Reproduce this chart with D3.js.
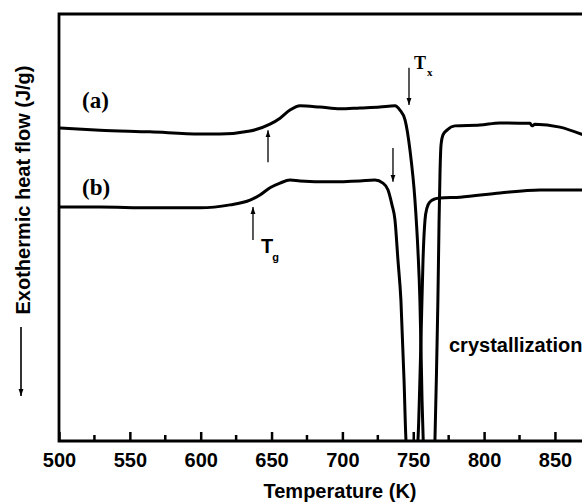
<!DOCTYPE html>
<html><head><meta charset="utf-8">
<script src="https://cdn.jsdelivr.net/npm/d3@7"></script>
<style>body{margin:0;background:#fff}svg{display:block}</style>
</head><body>
<svg id="c" width="582" height="504"></svg>
<script>
// Data (Temperature K, heat flow arbitrary units)
const curveA = [[500.7,7.33],[528.9,7.28],[564.2,7.24],[599.5,7.19],[613.6,7.19],[634.8,7.26],[648.9,7.42],[656,7.56],[663,7.75],[670.1,7.85],[684.2,7.82],[698.3,7.78],[712.4,7.80],[726.5,7.82],[737.1,7.85],[740.6,7.75],[744.2,7.52],[747.7,6.81],[751.2,5.64],[753.3,4.47],[754.7,3.30],[755.5,2.13],[756.2,0.96],[757.5,-0.5],[760.5,-1.8],[763.5,-0.8],[765.3,0],[766.7,2.1],[767.4,3.3],[768.2,5.1],[768.9,6.3],[769.6,6.93],[771.0,7.17],[773.8,7.28],[779.4,7.38],[797.1,7.40],[811.2,7.45],[832.4,7.44],[833.8,7.38],[835.9,7.42],[853.5,7.35],[869.8,7.17]];
const curveB = [[500.7,5.48],[528.9,5.48],[564.2,5.46],[599.5,5.46],[620.7,5.53],[634.8,5.64],[641.8,5.76],[648.9,5.93],[656,6.04],[663,6.11],[670.1,6.09],[691.2,6.07],[712.4,6.09],[723,6.11],[728.6,6.04],[732.2,5.88],[735,5.53],[737.1,5.18],[739.2,4.24],[741.3,3.30],[743.5,1.43],[744.9,0],[749.1,-1.15],[753.3,0],[754.7,1.43],[755.8,2.83],[756.9,4.24],[758.3,5.18],[759.7,5.46],[761.8,5.60],[765.3,5.67],[768.9,5.69],[783,5.71],[811.2,5.81],[839.4,5.88],[869.8,5.88]];
const majorTicks = [500,550,600,650,700,750,800,850];
const minorTicks = [525,575,625,675,725,775,825];
// Annotation arrows: [temperature, tail value, tip value]
const arrows = [[647.5,6.53,7.28],[636.9,4.71,5.48],[747.0,8.74,7.87],[735.7,6.86,6.07]];
const curveLabels = ["(a)","(b)"];

const svg = d3.select("#c");
const L=59, R=583, T=14, B=441;
const x = d3.scaleLinear().domain([500,869.8]).range([L,R]);
const y = d3.scaleLinear().domain([0,10]).range([B,T]);

svg.append("defs").append("clipPath").attr("id","clip")
  .append("rect").attr("x",L).attr("y",T).attr("width",R-L).attr("height",B-T);
const mk = svg.select("defs").append("marker").attr("id","ah")
  .attr("viewBox","0 0 10 10").attr("refX",10).attr("refY",5)
  .attr("markerWidth",7).attr("markerHeight",7).attr("markerUnits","userSpaceOnUse")
  .attr("orient","auto");
mk.append("path").attr("d","M0,1.5 L10,5 L0,8.5 Z").attr("fill","#000");

const line = d3.line().x(d=>x(d[0])).y(d=>y(d[1])).curve(d3.curveMonotoneX);
const g = svg.append("g").attr("clip-path","url(#clip)");
[curveA, curveB].forEach(c=>{
  g.append("path").datum(c).attr("d",line).attr("fill","none")
   .attr("stroke","#000").attr("stroke-width",3).attr("stroke-linejoin","round");
});

// axis
const ax = svg.append("g").attr("transform",`translate(0,${B})`)
  .call(d3.axisBottom(x).tickValues(majorTicks).tickSizeInner(-9).tickSizeOuter(0).tickPadding(12).tickFormat(d3.format("d")));
ax.select(".domain").remove();
ax.selectAll(".tick line").attr("stroke","#000").attr("stroke-width",2.5);
ax.selectAll(".tick text").attr("font-family","Liberation Sans, Arial, sans-serif")
  .attr("font-weight","bold").attr("font-size",20).attr("fill","#000");
svg.append("g").selectAll("line").data(minorTicks).join("line")
  .attr("x1",d=>x(d)).attr("x2",d=>x(d)).attr("y1",B).attr("y2",B-6)
  .attr("stroke","#000").attr("stroke-width",2.5);

// frame
svg.append("path").attr("d",`M${R},${T} L${L},${T} L${L},${B} L${R},${B}`)
  .attr("fill","none").attr("stroke","#000").attr("stroke-width",2.8);

// arrows
svg.append("g").selectAll("line").data(arrows).join("line")
  .attr("x1",d=>x(d[0])).attr("x2",d=>x(d[0])).attr("y1",d=>y(d[1])).attr("y2",d=>y(d[2]))
  .attr("stroke","#000").attr("stroke-width",1.3).attr("marker-end","url(#ah)");

// labels
const serif="Liberation Serif, Times New Roman, serif";
const sans="Liberation Sans, Arial, sans-serif";
svg.append("text").attr("x",82).attr("y",108).attr("font-family",serif).attr("font-weight","bold").attr("font-size",23).text(curveLabels[0]);
svg.append("text").attr("x",82).attr("y",195).attr("font-family",serif).attr("font-weight","bold").attr("font-size",23).text(curveLabels[1]);
const tx = svg.append("text").attr("x",414).attr("y",69).attr("font-family",serif).attr("font-weight","bold").attr("font-size",18);
tx.append("tspan").text("T");
tx.append("tspan").attr("font-size",11).attr("dy",7).attr("dx",1).text("x");
const tg = svg.append("text").attr("x",261).attr("y",253).attr("font-family",sans).attr("font-weight","bold").attr("font-size",20);
tg.append("tspan").text("T");
tg.append("tspan").attr("font-size",11).attr("dy",8).attr("dx",-1).text("g");
svg.append("text").attr("x",449).attr("y",352).attr("font-family",sans).attr("font-weight","bold").attr("font-size",20).text("crystallization");
svg.append("text").attr("x",340).attr("y",498).attr("text-anchor","middle").attr("font-family",sans).attr("font-weight","bold").attr("font-size",20).text("Temperature (K)");
svg.append("text").attr("transform","translate(30,190) rotate(-90)").attr("text-anchor","middle").attr("font-family",sans).attr("font-weight","bold").attr("font-size",20).text("Exothermic heat flow (J/g)");
svg.append("line").attr("x1",21).attr("x2",21).attr("y1",327).attr("y2",396)
  .attr("stroke","#000").attr("stroke-width",1.6).attr("marker-end","url(#ah)");
</script>
</body></html>
